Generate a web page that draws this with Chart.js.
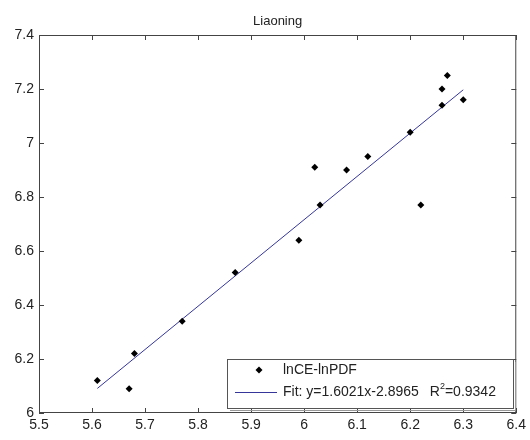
<!DOCTYPE html>
<html>
<head>
<meta charset="utf-8">
<title>Liaoning</title>
<script src="https://cdn.jsdelivr.net/npm/chart.js@4/dist/chart.umd.min.js"></script>
<style>
  html, body { margin: 0; padding: 0; background: #fff; }
  #wrap { width: 530px; height: 440px; }
</style>
</head>
<body>
<div id="wrap"><canvas id="chart" width="530" height="440"></canvas></div>
<script>
// data
const xValues = [5.61, 5.67, 5.68, 5.77, 5.87, 5.99, 6.02, 6.03, 6.08, 6.12, 6.20, 6.22, 6.26, 6.26, 6.27, 6.30];
const yValues = [6.12, 6.09, 6.22, 6.34, 6.52, 6.64, 6.91, 6.77, 6.90, 6.95, 7.04, 6.77, 7.14, 7.20, 7.25, 7.16];

// fitted line end points
const fitX = [5.61, 6.30];
const fitY = [6.091, 7.197];

const xTicks = [5.5, 5.6, 5.7, 5.8, 5.9, 6.0, 6.1, 6.2, 6.3, 6.4];
const yTicks = [6.0, 6.2, 6.4, 6.6, 6.8, 7.0, 7.2, 7.4];

const titleText = 'Liaoning';
const seriesName = 'lnCE-lnPDF';
const fitLabel = 'Fit: y=1.6021x-2.8965';
const r2Value = '0.9342';

const lineColor = '#35359a';
const textColor = '#222';
const frameColor = '#444';
const fontFamily = '"Liberation Sans", Arial, sans-serif';

const points = xValues.map((x, i) => ({ x: x, y: yValues[i] }));
const fitPoints = fitX.map((x, i) => ({ x: x, y: fitY[i] }));

// frame, inward ticks, title and legend box, matlab style
const matlabDecor = {
    id: 'matlabDecor',
    afterDraw(chart) {
        const ctx = chart.ctx;
        const area = chart.chartArea;
        const xs = chart.scales.x;
        const ys = chart.scales.y;

        ctx.save();
        ctx.strokeStyle = frameColor;
        ctx.lineWidth = 1;
        ctx.strokeRect(area.left + 0.5, area.top + 0.5, area.right - area.left - 1, area.bottom - area.top - 1);

        ctx.beginPath();
        xTicks.forEach(v => {
            const px = Math.round(xs.getPixelForValue(v)) + 0.5;
            ctx.moveTo(px, area.bottom);
            ctx.lineTo(px, area.bottom - 5);
            ctx.moveTo(px, area.top);
            ctx.lineTo(px, area.top + 5);
        });
        yTicks.forEach(v => {
            const py = Math.round(ys.getPixelForValue(v)) + 0.5;
            ctx.moveTo(area.left, py);
            ctx.lineTo(area.left + 5, py);
            ctx.moveTo(area.right, py);
            ctx.lineTo(area.right - 5, py);
        });
        ctx.stroke();

        // title
        ctx.fillStyle = textColor;
        ctx.font = '13px ' + fontFamily;
        ctx.textAlign = 'center';
        ctx.textBaseline = 'middle';
        ctx.fillText(titleText, (area.left + area.right) / 2, 21);

        // legend box in the lower right corner
        const bx = 227, by = 359, bw = 286, bh = 49;
        ctx.fillStyle = '#fff';
        ctx.fillRect(bx, by, bw, bh);
        ctx.strokeStyle = '#555';
        ctx.strokeRect(bx + 0.5, by + 0.5, bw, bh);
        ctx.strokeStyle = '#999';
        ctx.beginPath();
        ctx.moveTo(bx + bw + 2.5, by + 3);
        ctx.lineTo(bx + bw + 2.5, by + bh + 2.5);
        ctx.lineTo(bx + 3, by + bh + 2.5);
        ctx.stroke();

        // row 1: marker
        const my = 370, mx = 259;
        ctx.fillStyle = '#000';
        ctx.beginPath();
        ctx.moveTo(mx, my - 3.5);
        ctx.lineTo(mx + 3.5, my);
        ctx.lineTo(mx, my + 3.5);
        ctx.lineTo(mx - 3.5, my);
        ctx.closePath();
        ctx.fill();

        ctx.font = '14px ' + fontFamily;
        ctx.textAlign = 'left';
        ctx.fillStyle = textColor;
        ctx.fillText(seriesName, 283, my);

        // row 2: fit line
        const ly = 392;
        ctx.strokeStyle = lineColor;
        ctx.beginPath();
        ctx.moveTo(235, ly + 0.5);
        ctx.lineTo(277, ly + 0.5);
        ctx.stroke();

        ctx.fillStyle = textColor;
        ctx.fillText(fitLabel, 283, ly);
        let tx = 283 + ctx.measureText(fitLabel).width + 11;
        ctx.fillText('R', tx, ly);
        tx += ctx.measureText('R').width;
        ctx.font = '9px ' + fontFamily;
        ctx.fillText('2', tx, ly - 5);
        tx += ctx.measureText('2').width;
        ctx.font = '14px ' + fontFamily;
        ctx.fillText('=' + r2Value, tx, ly);
        ctx.restore();
    }
};

const ctx = document.getElementById('chart').getContext('2d');
const chart = new Chart(ctx, {
    type: 'scatter',
    data: {
        datasets: [{
            label: seriesName,
            data: points,
            pointStyle: 'rectRot',
            pointRadius: 3.5,
            backgroundColor: '#000',
            borderColor: '#000',
            borderWidth: 0,
            order: 1
        }, {
            label: fitLabel,
            data: fitPoints,
            showLine: true,
            pointRadius: 0,
            borderColor: lineColor,
            borderWidth: 1,
            fill: false,
            order: 2
        }]
    },
    plugins: [matlabDecor],
    options: {
        responsive: false,
        animation: false,
        layout: { padding: { top: 35, right: 11, left: 0, bottom: 0 } },
        plugins: {
            legend: { display: false },
            title: { display: false },
            tooltip: { enabled: false }
        },
        scales: {
            x: {
                type: 'linear',
                min: 5.5,
                max: 6.4,
                afterBuildTicks: s => { s.ticks = xTicks.map(v => ({ value: v })); },
                afterFit: s => { s.height = 27; },
                grid: { display: false, drawTicks: false },
                border: { display: false },
                ticks: {
                    color: textColor,
                    padding: 4,
                    maxRotation: 0,
                    autoSkip: false,
                    font: { family: fontFamily, size: 14 },
                    callback: v => String(Math.round(v * 10) / 10)
                }
            },
            y: {
                type: 'linear',
                min: 6,
                max: 7.4,
                afterBuildTicks: s => { s.ticks = yTicks.map(v => ({ value: v })); },
                afterFit: s => { s.width = 39; },
                grid: { display: false, drawTicks: false },
                border: { display: false },
                ticks: {
                    color: textColor,
                    padding: 5,
                    autoSkip: false,
                    font: { family: fontFamily, size: 14 },
                    callback: v => String(Math.round(v * 10) / 10)
                }
            }
        }
    }
});
</script>
</body>
</html>
